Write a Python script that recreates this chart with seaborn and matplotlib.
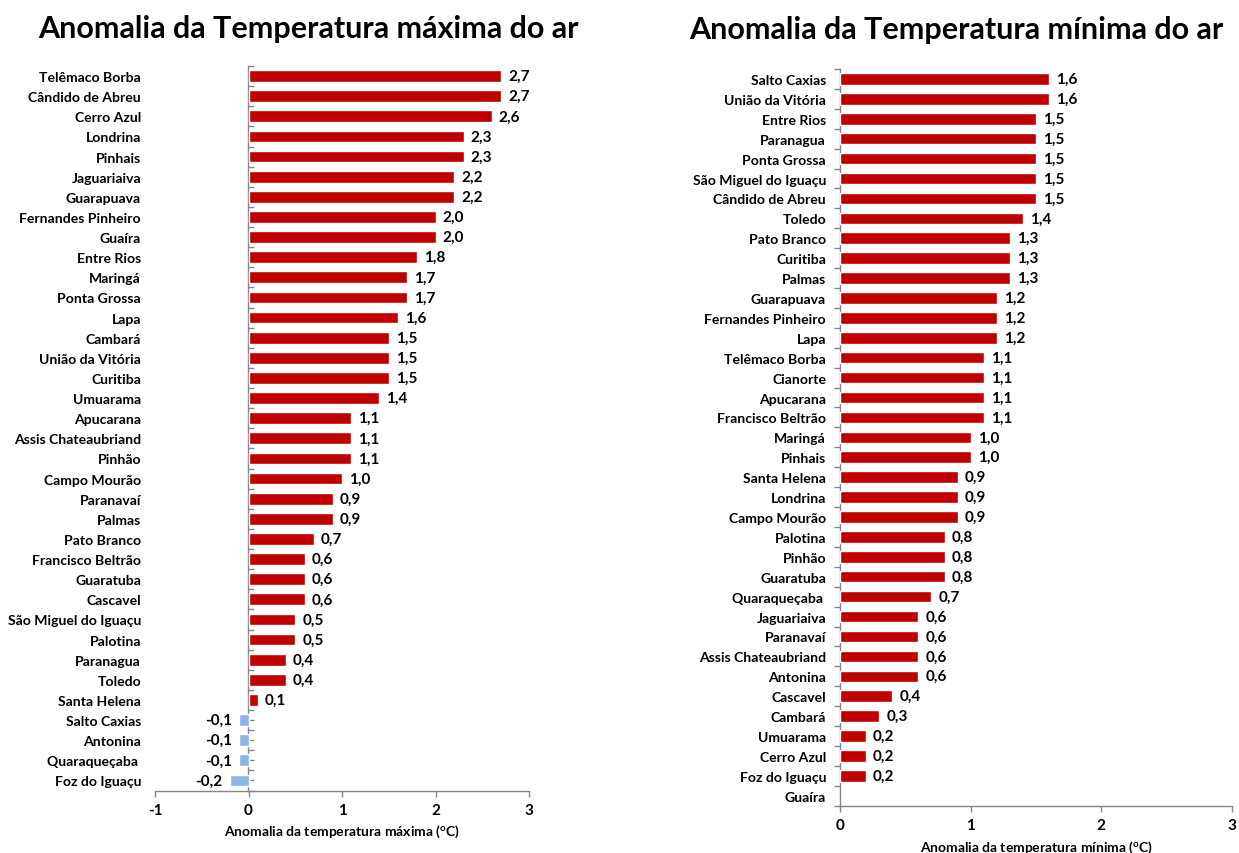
import numpy as np
import pandas as pd
import matplotlib
matplotlib.use("Agg")
import matplotlib.pyplot as plt
import seaborn as sns

# Anomalias da temperatura máxima do ar (°C) por estação
estacoes_max = [
    "Telêmaco Borba", "Cândido de Abreu", "Cerro Azul", "Londrina", "Pinhais",
    "Jaguariaiva", "Guarapuava", "Fernandes Pinheiro", "Guaíra", "Entre Rios",
    "Maringá", "Ponta Grossa", "Lapa", "Cambará", "União da Vitória", "Curitiba",
    "Umuarama", "Apucarana", "Assis Chateaubriand", "Pinhão", "Campo Mourão",
    "Paranavaí", "Palmas", "Pato Branco", "Francisco Beltrão", "Guaratuba",
    "Cascavel", "São Miguel do Iguaçu", "Palotina", "Paranagua", "Toledo",
    "Santa Helena", "Salto Caxias", "Antonina", "Quaraqueçaba ", "Foz do Iguaçu",
]
anom_max = [
    2.7, 2.7, 2.6, 2.3, 2.3, 2.2, 2.2, 2.0, 2.0, 1.8, 1.7, 1.7, 1.6, 1.5, 1.5,
    1.5, 1.4, 1.1, 1.1, 1.1, 1.0, 0.9, 0.9, 0.7, 0.6, 0.6, 0.6, 0.5, 0.5, 0.4,
    0.4, 0.1, -0.1, -0.1, -0.1, -0.2,
]

# Anomalias da temperatura mínima do ar (°C) por estação
estacoes_min = [
    "Salto Caxias", "União da Vitória", "Entre Rios", "Paranagua", "Ponta Grossa",
    "São Miguel do Iguaçu", "Cândido de Abreu", "Toledo", "Pato Branco",
    "Curitiba", "Palmas", "Guarapuava", "Fernandes Pinheiro", "Lapa",
    "Telêmaco Borba", "Cianorte", "Apucarana", "Francisco Beltrão", "Maringá",
    "Pinhais", "Santa Helena", "Londrina", "Campo Mourão", "Palotina", "Pinhão",
    "Guaratuba", "Quaraqueçaba ", "Jaguariaiva", "Paranavaí",
    "Assis Chateaubriand", "Antonina", "Cascavel", "Cambará", "Umuarama",
    "Cerro Azul", "Foz do Iguaçu", "Guaíra",
]
anom_min = [
    1.6, 1.6, 1.5, 1.5, 1.5, 1.5, 1.5, 1.4, 1.3, 1.3, 1.3, 1.2, 1.2, 1.2, 1.1,
    1.1, 1.1, 1.1, 1.0, 1.0, 0.9, 0.9, 0.9, 0.8, 0.8, 0.8, 0.7, 0.6, 0.6, 0.6,
    0.6, 0.4, 0.3, 0.2, 0.2, 0.2, np.nan,
]

titulo_max = "Anomalia da Temperatura máxima do ar"
titulo_min = "Anomalia da Temperatura mínima do ar"
rotulo_max = r"Anomalia da temperatura máxima ($^{\mathrm{o}}$C)"
rotulo_min = r"Anomalia da temperatura mínima ($^{\mathrm{o}}$C)"
ticks_max = [-1, 0, 1, 2, 3]
ticks_min = [0, 1, 2, 3]

VERMELHO = "#C00000"
AZUL = "#8DB4E2"
CINZA = "#868686"

sns.set_theme(style="white")
plt.rcParams["font.family"] = ["Lato", "DejaVu Sans"]
plt.rcParams["font.weight"] = "bold"
plt.rcParams["axes.labelweight"] = "bold"
plt.rcParams["text.color"] = "black"
plt.rcParams["axes.labelcolor"] = "black"
plt.rcParams["xtick.labelcolor"] = "black"
plt.rcParams["ytick.labelcolor"] = "black"
plt.rcParams["mathtext.fontset"] = "custom"
plt.rcParams["mathtext.rm"] = "Lato:bold"
plt.rcParams["mathtext.it"] = "Lato:bold"
plt.rcParams["mathtext.bf"] = "Lato:bold"

W, H = 1239, 854
fig = plt.figure(figsize=(W / 100, H / 100), dpi=100)
fig.patch.set_facecolor("white")


def fmt_valor(v):
    if not np.isfinite(v) or v == 0:
        return ""
    return f"{v:.1f}".replace(".", ",")


def painel(rect, estacoes, valores, ticks, rotulo, label_y, zero_ticks_dir,
           boundaries_and_centers, ypad):
    ax = fig.add_axes(rect)
    df = pd.DataFrame({"estacao": estacoes, "valor": valores})
    df["sinal"] = np.where(df["valor"] < 0, "neg", "pos")
    sns.barplot(
        data=df, x="valor", y="estacao", hue="sinal",
        palette={"pos": VERMELHO, "neg": AZUL}, order=estacoes,
        dodge=False, legend=False, errorbar=None, saturation=1,
        width=0.58, ax=ax,
    )
    n = len(estacoes)
    ax.set_xlim(ticks[0], ticks[-1])
    ax.set_ylim(n - 0.5, -0.5)
    ax.set_xticks(ticks)
    ax.set_xticklabels([str(t) for t in ticks])
    ax.set_ylabel("")
    ax.set_xlabel(rotulo, fontsize=10, fontweight="bold", va="center")
    ax.xaxis.set_label_coords(0.5, label_y)

    for s in ("top", "right", "left"):
        ax.spines[s].set_visible(False)
    ax.spines["bottom"].set_color(CINZA)
    ax.spines["bottom"].set_linewidth(1.0)
    ax.tick_params(axis="x", direction="out", length=4, width=1, color=CINZA,
                   labelsize=11, pad=5, bottom=True)
    ax.tick_params(axis="y", length=0, labelsize=10.1, pad=ypad)
    for lab in ax.get_yticklabels() + ax.get_xticklabels():
        lab.set_fontweight("bold")

    # eixo das categorias passando pelo zero
    loc = (0 - ticks[0]) / (ticks[-1] - ticks[0])
    sec = ax.secondary_yaxis(loc)
    step = 0.5 if boundaries_and_centers else 1.0
    sec.set_yticks(np.arange(-0.5, n - 0.5 + 1e-9, step))
    sec.set_yticklabels([])
    sec.tick_params(direction=zero_ticks_dir, length=4, width=1, color=CINZA)
    sec.spines["left"].set_color(CINZA)
    sec.spines["left"].set_linewidth(1.0)

    for cont in ax.containers:
        ax.bar_label(cont, fmt=fmt_valor, padding=5, fontsize=11,
                     fontweight="bold", color="black")
    return ax


# painel esquerdo: máxima
ax1 = painel(
    [155 / W, 1 - 791.5 / H, 374 / W, (791.5 - 67) / H],
    estacoes_max, anom_max, ticks_max, rotulo_max,
    -40 / (791.5 - 67), "in", True, 10,
)
# painel direito: mínima
ax2 = painel(
    [840 / W, 1 - 806.7 / H, 392 / W, (806.7 - 70) / H],
    estacoes_min, anom_min, ticks_min, rotulo_min,
    -41 / (806.7 - 70), "out", False, 10,
)

fig.text(308 / W, 1 - 29 / H, titulo_max, ha="center", va="center",
         fontsize=22, fontweight="bold")
fig.text(956 / W, 1 - 30 / H, titulo_min, ha="center", va="center",
         fontsize=22, fontweight="bold")

fig.savefig("out.png", dpi=100, facecolor="white")
